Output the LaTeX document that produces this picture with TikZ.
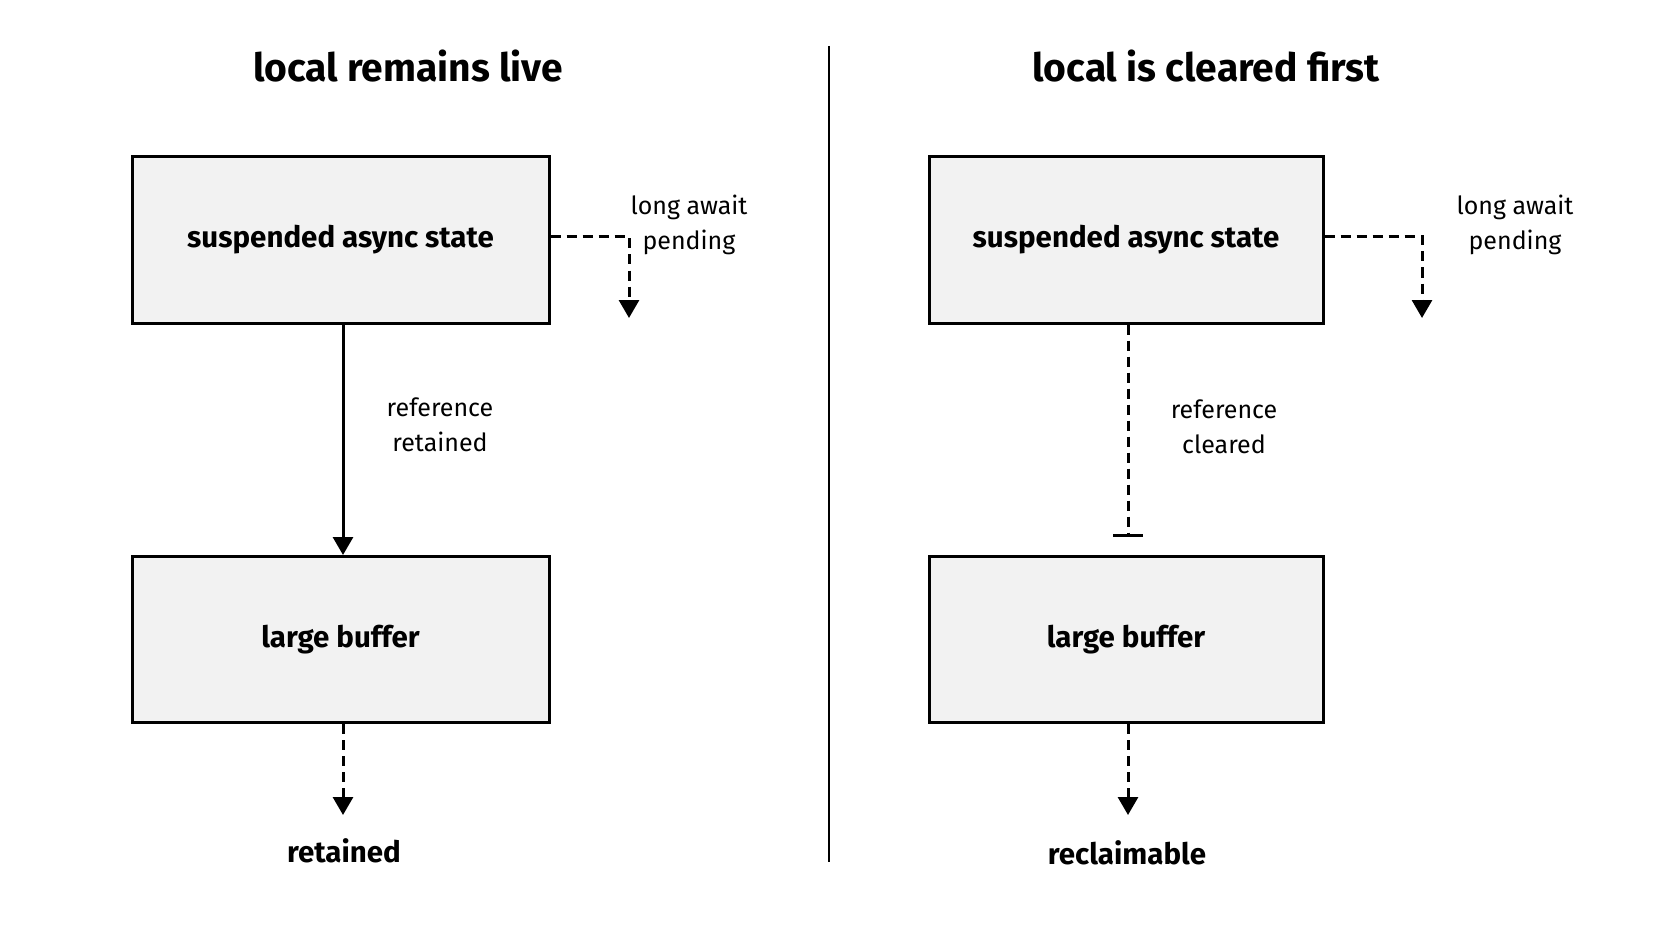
\documentclass[tikz,border=0pt]{standalone}
\usepackage{fontspec}
\setmainfont{Fira Sans}
\usetikzlibrary{arrows.meta}
\begin{document}
\begin{tikzpicture}[x=1pt,y=-1pt,
  box/.style={draw=black,line width=3pt,fill=black!5,minimum width=417pt,minimum height=166pt,inner sep=0pt,font=\fontsize{29.5}{35}\selectfont\bfseries},
  ttl/.style={font=\fontsize{39}{46}\selectfont\bfseries},
  lbl/.style={font=\fontsize{25}{35}\selectfont,align=center},
  endlbl/.style={font=\fontsize{29.5}{35}\selectfont\bfseries},
  conn/.style={line width=3pt},
  dsh/.style={line width=3pt,dash pattern=on 10pt off 6pt},
  tip/.style={-{Triangle[length=18pt,width=20pt]}}
]
\useasboundingbox[fill=white] (0,0) rectangle (1672,941);
% titles and divider
\node[ttl] (t1) at (408,66) {local remains live};
\node[ttl] (t2) at (1206,66) {local is cleared first};
\coordinate (d1) at (829,46);
\coordinate (d2) at (829,862);
\draw[line width=2.8pt] (d1) -- (d2);
% left
\node[box] (s1) at (340.5,240) {suspended async state};
\node[box] (b1) at (340.5,639.5) {large buffer};
\draw[conn,tip] (s1.south -| 343,0) -- (b1.north -| 343,0);
\node[lbl] (r1) at (440,425) {reference\\retained};
\coordinate (c1) at (629,237);
\coordinate (e1) at (629,318);
\draw[dsh,tip] (s1.east |- c1) -- (c1) -- (e1);
\node[lbl] (l1) at (689,225) {long await\\pending};
\node[endlbl] (x1) at (344,851) {retained};
\coordinate (f1) at (343,815);
\draw[dsh,tip] (b1.south -| f1) -- (f1);
% right
\node[box,minimum width=394pt] (s2) at (1126,240) {suspended async state};
\node[box,minimum width=394pt] (b2) at (1126,639.5) {large buffer};
\coordinate (k2) at (1128,535);
\draw[dsh] (s2.south -| k2) -- (k2);
\draw[line width=3pt] (1113,535) -- (1143,535);
\node[lbl] (r2) at (1224,427) {reference\\cleared};
\coordinate (c2) at (1422,237);
\coordinate (e2) at (1422,318);
\draw[dsh,tip] (s2.east |- c2) -- (c2) -- (e2);
\node[lbl] (l2) at (1515,225) {long await\\pending};
\node[endlbl] (x2) at (1127,853) {reclaimable};
\coordinate (f2) at (1128,815);
\draw[dsh,tip] (b2.south -| f2) -- (f2);
\end{tikzpicture}
\end{document}
